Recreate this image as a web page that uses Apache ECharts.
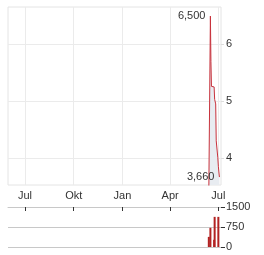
<!DOCTYPE html>
<html>
<head>
<meta charset="utf-8">
<script src="https://cdn.jsdelivr.net/npm/echarts@6/dist/echarts.min.js"></script>
<style>html,body{margin:0;padding:0;background:#fff}#c{width:264px;height:255px}</style>
</head>
<body>
<div id="c"></div>
<script>
const priceDates = ['2025-06-13','2025-06-16','2025-06-17','2025-06-18','2025-06-19','2025-06-20','2025-06-23','2025-06-24','2025-06-25','2025-06-26','2025-06-27','2025-06-30','2025-07-01','2025-07-02','2025-07-03'];
const prices = [3.40, 6.50, 5.70, 5.26, 5.27, 5.25, 5.25, 5.03, 5.00, 4.95, 4.30, 4.00, 3.85, 3.75, 3.66];
const volumeDates = ['2025-06-13','2025-06-16','2025-06-23','2025-06-24','2025-07-01'];
const volumes = [380, 720, 270, 1130, 1130];
const tickDates = ['2024-07-01','2024-10-01','2025-01-01','2025-04-01','2025-07-01'];
const tickLabels = ['Jul','Okt','Jan','Apr','Jul'];
const priceTicks = [4, 5, 6];
const volumeTicks = [0, 750, 1500];
const rangeStart = '2024-05-30';
const rangeEnd = '2025-07-06';

function ts(d){ const p = d.split('-').map(Number); return Date.UTC(p[0], p[1]-1, p[2]); }
const tickTs = tickDates.map(ts);
function fmtPrice(v){ return v.toFixed(3).replace('.', ','); }

const priceData = priceDates.map((d,i)=>[ts(d), prices[i]]);
const volData = volumeDates.map((d,i)=>[ts(d), volumes[i]]);
let maxI = 0; prices.forEach((v,i)=>{ if(v>prices[maxI]) maxI=i; });
const lastI = prices.length-1;

const chart = echarts.init(document.getElementById('c'), null, {renderer:'canvas'});
const txt = {color:'#333', fontSize:11, fontFamily:'Arial, Liberation Sans, sans-serif'};
chart.setOption({
  animation:false,
  grid:[
    {left:8, right:43, top:7, height:178, show:true, borderColor:'#e4e4e4', borderWidth:1},
    {left:8, right:43, top:207, height:40}
  ],
  xAxis:[
    {type:'value', gridIndex:0, min:ts(rangeStart), max:ts(rangeEnd),
     axisLine:{show:false}, axisTick:{show:false, customValues:tickTs},
     axisLabel:Object.assign({customValues:tickTs, margin:5, formatter:v=>tickLabels[tickTs.indexOf(v)]}, txt),
     splitLine:{show:true, lineStyle:{color:'#ebebeb', width:1}}},
    {type:'value', gridIndex:1, position:'top', min:ts(rangeStart), max:ts(rangeEnd),
     axisLine:{show:true, onZero:false, lineStyle:{color:'#c8c8c8'}},
     axisTick:{show:true, inside:true, length:4, customValues:tickTs, lineStyle:{color:'#333'}},
     axisLabel:{show:false, customValues:tickTs},
     splitLine:{show:false}}
  ],
  yAxis:[
    {type:'value', gridIndex:0, position:'right', min:3.52, max:6.66,
     axisLine:{show:false}, axisTick:{show:true, length:3, customValues:priceTicks, lineStyle:{color:'#ddd'}},
     axisLabel:Object.assign({customValues:priceTicks, margin:5}, txt),
     splitLine:{show:true, lineStyle:{color:'#ebebeb'}}},
    {type:'value', gridIndex:1, position:'right', min:0, max:1500,
     axisLine:{show:false}, axisTick:{show:true, length:4, customValues:volumeTicks, lineStyle:{color:'#333'}},
     axisLabel:Object.assign({customValues:volumeTicks, margin:5, formatter:v=>String(v)}, txt),
     splitLine:{show:true, lineStyle:{color:'#c8c8c8'}}}
  ],
  series:[
    {type:'line', xAxisIndex:0, yAxisIndex:0, data:priceData, symbol:'none', clip:true,
     lineStyle:{color:'#c8323c', width:1}, areaStyle:{color:'#e8ecf1', opacity:1},
     markPoint:{symbol:'circle', symbolSize:0, silent:true,
       label:Object.assign({position:'left', distance:5, formatter:p=>fmtPrice(p.data.coord[1])}, txt),
       data:[{coord:priceData[maxI]}, {coord:priceData[lastI]}]}},
    {type:'bar', xAxisIndex:1, yAxisIndex:1, data:volData, barWidth:2, itemStyle:{color:'#b22222'}}
  ]
});
</script>
</body>
</html>
